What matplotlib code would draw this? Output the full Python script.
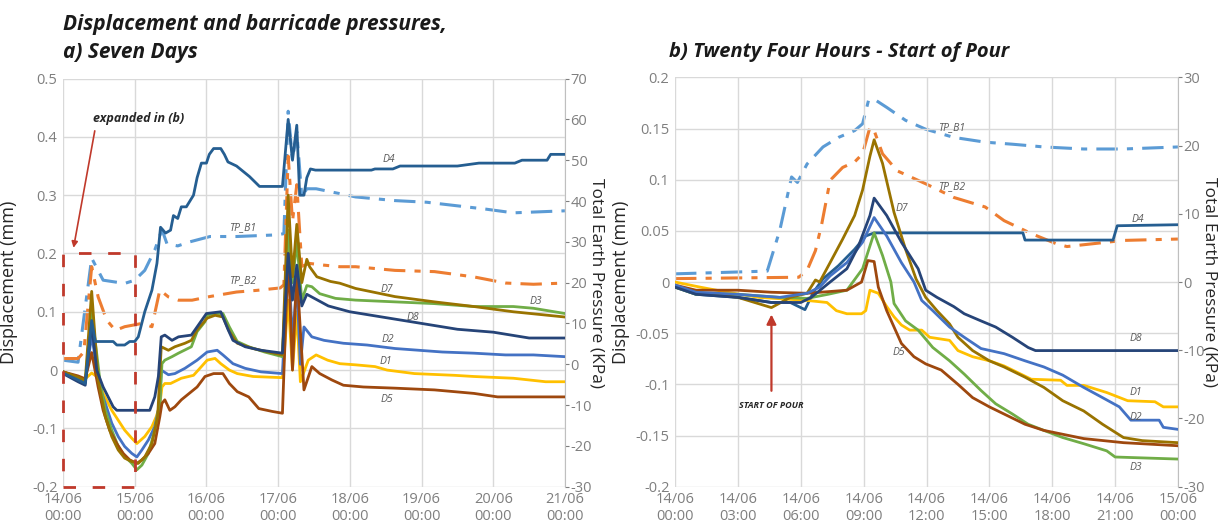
import matplotlib
matplotlib.use("Agg")
import matplotlib.pyplot as plt
from matplotlib.patches import Rectangle

plt.rcParams['font.family'] = ['Open Sans', 'DejaVu Sans']
plt.rcParams['axes.unicode_minus'] = False

# ---------------- data: panel a) seven days (x in days since 14/06 00:00) ----------------
a_xticks = [0, 1, 2, 3, 4, 5, 6, 7]
a_xticklabels = ["14/06\n00:00", "15/06\n00:00", "16/06\n00:00", "17/06\n00:00",
                 "18/06\n00:00", "19/06\n00:00", "20/06\n00:00", "21/06\n00:00"]
a_yticks = [0.5, 0.4, 0.3, 0.2, 0.1, 0, -0.1, -0.2]
a_yticklabels = ["0.5", "0.4", "0.3", "0.2", "0.1", "0", "-0.1", "-0.2"]
a_pticks = [70, 60, 50, 40, 30, 20, 10, 0, -10, -20, -30]

a_d1_x = [0, 0.2, 0.31, 0.4, 0.47, 0.56, 0.68, 0.77, 0.86, 0.96, 1.03, 1.14, 1.24, 1.3, 1.35, 1.38,
          1.42, 1.5, 1.65, 1.82, 1.93, 2.01, 2.12, 2.2, 2.32, 2.43, 2.65, 3.06, 3.14, 3.2, 3.26,
          3.31, 3.42, 3.53, 3.69, 3.86, 4.08, 4.35, 4.52, 4.9, 5.46, 5.73, 6.28, 6.73, 7.0]
a_d1_y = [-0.003, -0.012, -0.015, -0.005, -0.011, -0.04, -0.069, -0.086, -0.103, -0.117, -0.126,
          -0.114, -0.097, -0.08, -0.06, -0.029, -0.023, -0.023, -0.014, -0.009, 0.006, 0.017, 0.02,
          0.011, 0.0, -0.006, -0.011, -0.013, 0.12, 0.0, 0.1, -0.02, 0.017, 0.026, 0.017, 0.011,
          0.009, 0.006, 0.0, -0.006, -0.009, -0.011, -0.014, -0.02, -0.02]

a_d2_x = [0, 0.2, 0.31, 0.4, 0.51, 0.59, 0.68, 0.77, 0.86, 0.96, 1.03, 1.1, 1.19, 1.28, 1.35, 1.37,
          1.47, 1.56, 1.7, 1.87, 2.01, 2.15, 2.23, 2.37, 2.54, 2.76, 3.06, 3.14, 3.2, 3.26, 3.31,
          3.36, 3.47, 3.64, 3.91, 4.24, 4.63, 4.96, 5.29, 5.73, 6.17, 6.56, 7.0]
a_d2_y = [-0.003, -0.015, -0.02, 0.06, -0.029, -0.057, -0.091, -0.114, -0.131, -0.143, -0.149,
          -0.137, -0.12, -0.097, -0.057, 0.0, -0.008, -0.006, 0.003, 0.017, 0.031, 0.034, 0.026,
          0.011, 0.003, -0.003, -0.006, 0.2, 0.05, 0.15, 0.01, 0.074, 0.057, 0.051, 0.046, 0.043,
          0.037, 0.034, 0.031, 0.029, 0.026, 0.026, 0.023]

a_d3_x = [0, 0.21, 0.31, 0.4, 0.52, 0.59, 0.68, 0.77, 0.87, 0.96, 1.03, 1.1, 1.19, 1.28, 1.35,
          1.38, 1.42, 1.52, 1.61, 1.79, 1.87, 1.98, 2.01, 2.1, 2.23, 2.32, 2.43, 2.59, 2.81, 3.06,
          3.14, 3.2, 3.26, 3.33, 3.4, 3.47, 3.58, 3.8, 4.08, 4.63, 5.18, 5.73, 6.28, 6.56, 7.0]
a_d3_y = [-0.003, -0.015, -0.02, 0.1, -0.023, -0.069, -0.103, -0.131, -0.149, -0.16, -0.171,
          -0.163, -0.143, -0.103, -0.057, 0.011, 0.017, 0.023, 0.029, 0.04, 0.066, 0.083, 0.094,
          0.097, 0.097, 0.074, 0.049, 0.04, 0.031, 0.023, 0.24, 0.15, 0.22, 0.12, 0.145, 0.143,
          0.131, 0.123, 0.12, 0.117, 0.114, 0.109, 0.109, 0.106, 0.097]

a_d4_x = [0, 0.21, 0.31, 0.4, 0.45, 0.7, 0.75, 0.86, 0.93, 1.0, 1.05, 1.14, 1.24, 1.31, 1.36,
          1.43, 1.5, 1.54, 1.6, 1.65, 1.72, 1.82, 1.87, 1.93, 2.0, 2.04, 2.1, 2.2, 2.25, 2.3, 2.42,
          2.6, 2.74, 3.06, 3.14, 3.2, 3.26, 3.3, 3.36, 3.4, 3.45, 3.52, 4.3, 4.35, 4.6, 4.7, 5.5,
          5.8, 6.3, 6.4, 6.75, 6.8, 7.0]
a_d4_y = [-0.005, -0.017, -0.023, 0.085, 0.049, 0.049, 0.043, 0.043, 0.049, 0.049, 0.057, 0.1,
          0.137, 0.183, 0.245, 0.235, 0.24, 0.265, 0.26, 0.28, 0.28, 0.3, 0.33, 0.355, 0.355,
          0.37, 0.38, 0.38, 0.37, 0.357, 0.35, 0.332, 0.315, 0.315, 0.43, 0.36, 0.42, 0.3, 0.3,
          0.33, 0.345, 0.343, 0.343, 0.345, 0.345, 0.35, 0.35, 0.355, 0.355, 0.36, 0.36, 0.37, 0.37]

a_d5_x = [0, 0.21, 0.31, 0.4, 0.49, 0.56, 0.65, 0.75, 0.84, 0.93, 1.03, 1.1, 1.19, 1.28, 1.35,
          1.38, 1.42, 1.49, 1.56, 1.65, 1.76, 1.87, 1.98, 2.1, 2.23, 2.32, 2.43, 2.59, 2.73, 2.92,
          3.06, 3.14, 3.2, 3.26, 3.36, 3.47, 3.58, 3.75, 3.91, 4.19, 4.63, 5.18, 5.73, 6.06, 7.0]
a_d5_y = [-0.003, -0.01, -0.015, 0.03, -0.029, -0.069, -0.103, -0.126, -0.143, -0.154, -0.16,
          -0.154, -0.143, -0.126, -0.08, -0.057, -0.051, -0.069, -0.063, -0.051, -0.04, -0.029,
          -0.011, -0.006, -0.006, -0.023, -0.037, -0.046, -0.066, -0.071, -0.074, 0.2, 0.0, 0.17,
          -0.034, 0.006, -0.006, -0.017, -0.026, -0.029, -0.031, -0.034, -0.04, -0.046, -0.046]

a_d7_x = [0, 0.21, 0.31, 0.4, 0.49, 0.59, 0.68, 0.77, 0.86, 0.96, 1.05, 1.14, 1.24, 1.32, 1.37,
          1.47, 1.56, 1.7, 1.79, 1.87, 2.01, 2.12, 2.23, 2.32, 2.43, 2.65, 2.87, 3.06, 3.14, 3.2,
          3.26, 3.33, 3.4, 3.44, 3.54, 3.73, 3.86, 4.08, 4.63, 5.18, 5.73, 6.28, 7.0]
a_d7_y = [-0.003, -0.012, -0.018, 0.135, -0.017, -0.08, -0.114, -0.137, -0.151, -0.157, -0.16,
          -0.149, -0.126, -0.08, 0.04, 0.034, 0.04, 0.046, 0.051, 0.069, 0.089, 0.094, 0.091,
          0.066, 0.046, 0.037, 0.031, 0.026, 0.3, 0.16, 0.25, 0.15, 0.19, 0.177, 0.16, 0.152,
          0.149, 0.14, 0.126, 0.117, 0.109, 0.1, 0.091]

a_d8_x = [0, 0.21, 0.31, 0.4, 0.47, 0.56, 0.63, 0.7, 0.75, 1.21, 1.28, 1.33, 1.37, 1.42, 1.52,
          1.61, 1.79, 2.0, 2.2, 2.3, 2.37, 2.54, 2.76, 3.06, 3.14, 3.2, 3.26, 3.33, 3.4, 3.7, 4.0,
          4.5, 5.0, 5.5, 6.0, 6.5, 7.0]
a_d8_y = [-0.006, -0.02, -0.026, 0.08, 0.0, -0.029, -0.046, -0.063, -0.069, -0.069, -0.046,
          -0.011, 0.057, 0.06, 0.051, 0.057, 0.06, 0.097, 0.1, 0.07, 0.051, 0.04, 0.034, 0.029,
          0.2, 0.12, 0.18, 0.11, 0.13, 0.11, 0.1, 0.09, 0.08, 0.07, 0.065, 0.055, 0.055]

a_tpb1_x = [0, 0.21, 0.4, 0.56, 0.86, 1.0, 1.14, 1.28, 1.38, 1.45, 1.6, 1.77, 2.05, 2.42, 2.98,
            3.08, 3.14, 3.2, 3.26, 3.33, 3.4, 3.53, 4.08, 4.63, 5.07, 5.46, 5.9, 6.28, 7.0]
a_tpb1_y = [1.0, 0.5, 26, 20.6, 19.8, 20.6, 23, 28, 33, 29.5, 29, 30, 31.3, 31.3, 31.7, 32, 62,
            50, 57, 41, 43, 43, 41, 40.1, 39.7, 38.9, 38.0, 37.1, 37.6]

a_tpb2_x = [0, 0.21, 0.29, 0.4, 0.49, 0.61, 0.73, 0.86, 1.1, 1.24, 1.35, 1.47, 1.61, 1.8, 2.05,
            2.42, 2.7, 3.03, 3.08, 3.14, 3.2, 3.26, 3.33, 3.44, 3.63, 3.86, 4.08, 4.63, 5.18,
            5.73, 6.17, 6.56, 7.0]
a_tpb2_y = [1.4, 1.4, 3, 23.9, 16.5, 10.8, 8.3, 9.2, 10, 9.2, 18.2, 16.5, 15.7, 15.7, 16.6, 17.7,
            18.1, 18.7, 19.5, 51, 35, 44, 24, 24.7, 24.3, 23.9, 23.9, 23.0, 22.7, 21.4, 19.9,
            19.6, 19.9]

# ---------------- data: panel b) 24 hours (x in hours since 14/06 00:00) ----------------
b_xticks = [0, 3, 6, 9, 12, 15, 18, 21, 24]
b_xticklabels = ["14/06\n00:00", "14/06\n03:00", "14/06\n06:00", "14/06\n09:00", "14/06\n12:00",
                 "14/06\n15:00", "14/06\n18:00", "14/06\n21:00", "15/06\n00:00"]
b_yticks = [0.2, 0.15, 0.1, 0.05, 0, -0.05, -0.1, -0.15, -0.2]
b_yticklabels = ["0.2", "0.15", "0.1", "0.05", "0", "-0.05", "-0.1", "-0.15", "-0.2"]
b_pticks = [30, 20, 10, 0, -10, -20, -30]

b_d1_x = [0, 1.2, 2.5, 4.0, 6.3, 7.25, 7.7, 8.2, 8.9, 9.1, 9.3, 9.7, 10.1, 10.45, 10.8, 11.2,
          11.77, 12.15, 13.1, 13.5, 14.2, 15.0, 15.7, 16.5, 17.0, 18.4, 18.7, 19.5, 20.6, 21.6,
          22.9, 23.3, 24]
b_d1_y = [0.0, -0.005, -0.01, -0.015, -0.018, -0.02, -0.028, -0.031, -0.031, -0.028, -0.008,
          -0.011, -0.024, -0.034, -0.042, -0.047, -0.047, -0.054, -0.057, -0.067, -0.073, -0.077,
          -0.082, -0.09, -0.095, -0.096, -0.101, -0.101, -0.108, -0.116, -0.117, -0.122, -0.122]

b_d2_x = [0, 1.0, 3.0, 5.0, 6.3, 6.9, 7.4, 8.2, 8.95, 9.5, 10.1, 10.8, 11.4, 11.77, 12.3, 13.1,
          13.8, 14.6, 15.7, 16.7, 17.6, 18.5, 19.5, 20.4, 21.2, 21.75, 23.1, 23.3, 24]
b_d2_y = [-0.003, -0.01, -0.012, -0.015, -0.011, -0.005, 0.006, 0.019, 0.039, 0.063, 0.045,
          0.019, 0.0, -0.018, -0.028, -0.044, -0.054, -0.065, -0.07, -0.077, -0.083, -0.091,
          -0.103, -0.113, -0.122, -0.135, -0.135, -0.142, -0.144]

b_d3_x = [0, 1.0, 3.0, 5.0, 6.3, 7.3, 8.2, 8.95, 9.5, 9.9, 10.3, 10.45, 11.0, 11.6, 12.3, 13.1,
          13.8, 14.6, 15.3, 16.1, 16.85, 17.6, 18.5, 19.5, 20.6, 21.0, 24]
b_d3_y = [-0.005, -0.012, -0.012, -0.015, -0.016, -0.012, -0.008, 0.013, 0.048, 0.026, 0.0,
          -0.021, -0.038, -0.047, -0.064, -0.077, -0.09, -0.106, -0.119, -0.129, -0.139, -0.145,
          -0.152, -0.158, -0.165, -0.171, -0.173]

b_d4_x = [0, 1.0, 3.0, 4.6, 5.5, 6.2, 6.6, 7.06, 7.8, 8.57, 9.1, 9.5, 16.6, 16.7, 20.9, 21.1, 24]
b_d4_y = [-0.005, -0.012, -0.015, -0.02, -0.02, -0.027, -0.01, 0.003, 0.016, 0.032, 0.045, 0.048,
          0.048, 0.041, 0.041, 0.055, 0.056]

b_d5_x = [0, 1.0, 3.0, 4.6, 6.3, 8.2, 8.9, 9.2, 9.5, 9.7, 10.1, 10.45, 10.8, 11.4, 11.96, 12.7,
          13.5, 14.2, 15.0, 15.7, 16.7, 17.6, 19.5, 21.4, 24]
b_d5_y = [-0.003, -0.008, -0.008, -0.01, -0.011, -0.008, 0.0, 0.021, 0.02, -0.005, -0.028,
          -0.044, -0.06, -0.073, -0.08, -0.086, -0.1, -0.113, -0.122, -0.129, -0.139, -0.145,
          -0.153, -0.157, -0.16]

b_d7_x = [0, 1.0, 3.0, 4.6, 5.5, 6.3, 6.7, 6.9, 7.4, 8.0, 8.57, 8.95, 9.3, 9.5, 9.9, 10.45, 11.0,
          11.5, 11.96, 12.5, 13.1, 13.5, 14.2, 15.0, 15.7, 16.7, 17.6, 18.5, 19.5, 20.4, 21.4,
          22.3, 24]
b_d7_y = [-0.005, -0.01, -0.015, -0.025, -0.015, -0.011, 0.002, 0.0, 0.019, 0.042, 0.065, 0.09,
          0.123, 0.139, 0.116, 0.068, 0.032, 0.003, -0.015, -0.028, -0.041, -0.054, -0.067,
          -0.077, -0.083, -0.093, -0.103, -0.116, -0.126, -0.139, -0.152, -0.155, -0.157]

b_d8_x = [0, 1.0, 3.0, 4.6, 6.0, 6.5, 7.4, 8.2, 8.75, 9.3, 9.5, 10.1, 10.8, 11.6, 11.96, 12.5,
          13.3, 13.8, 14.6, 15.3, 16.1, 16.85, 17.2, 24]
b_d8_y = [-0.005, -0.012, -0.015, -0.02, -0.02, -0.015, 0.0, 0.013, 0.035, 0.065, 0.082, 0.065,
          0.039, 0.013, -0.008, -0.015, -0.024, -0.031, -0.038, -0.044, -0.054, -0.064, -0.067,
          -0.067]

b_tpb1_x = [0, 4.4, 5.0, 5.56, 5.84, 6.3, 7.06, 7.8, 8.57, 8.95, 9.23, 9.5, 10.1, 11.0, 11.96,
            13.3, 14.8, 16.1, 17.6, 19.5, 21.4, 24]
b_tpb1_y = [1.2, 1.6, 7.6, 15.4, 14.6, 17.3, 19.8, 21.2, 22.2, 23.2, 26.6, 26.8, 25.6, 23.7,
            22.4, 21.2, 20.5, 20.2, 19.8, 19.5, 19.5, 19.8]

b_tpb2_x = [0, 5.9, 6.3, 6.7, 7.0, 7.4, 8.0, 8.57, 8.95, 9.3, 9.5, 9.9, 10.6, 11.96, 13.3, 14.8,
            15.7, 17.0, 18.2, 18.7, 19.9, 21.4, 24]
b_tpb2_y = [0.5, 0.7, 1.7, 4.6, 8.5, 14.9, 16.8, 17.6, 18.8, 22.7, 22.2, 18.8, 16.3, 14.4, 12.4,
            11.0, 9.0, 7.1, 5.6, 5.2, 5.6, 6.1, 6.3]

# ---------------- styles ----------------
C = {"D1": "#FFC000", "D2": "#4472C4", "D3": "#70AD47", "D4": "#255E91",
     "D5": "#9E480E", "D7": "#997300", "D8": "#264478",
     "TP_B1": "#5B9BD5", "TP_B2": "#ED7D31"}
GRID = "#d9d9d9"
TICKC = "#7f7f7f"
LBLC = "#595959"
RED = "#c0392b"
DASHDOT = (0, (7, 3, 2, 3))

fig = plt.figure(figsize=(12.28, 5.27), dpi=100)


def setup(ax, ax2, xlim, ylim, plim, xticks, xlabels, yticks, ylabels, pticks):
    ax.set_xlim(*xlim)
    ax.set_ylim(*ylim)
    ax2.set_ylim(*plim)
    ax.set_xticks(xticks)
    ax.set_xticklabels(xlabels)
    ax.set_yticks(yticks)
    ax.set_yticklabels(ylabels)
    ax2.set_yticks(pticks)
    ax2.set_yticklabels([str(p) for p in pticks])
    ax.grid(True, color=GRID, linewidth=1.0)
    ax.tick_params(length=0, colors=TICKC, labelsize=10.5, pad=4)
    ax2.tick_params(axis='y', length=3, colors=TICKC, labelsize=10.5, pad=1)
    for s in ax.spines.values():
        s.set_visible(False)
    for name, s in ax2.spines.items():
        if name == 'right':
            s.set_color("#bfbfbf")
        else:
            s.set_visible(False)
    ax.set_ylabel("Displacement (mm)", fontsize=13, color="#262626")
    ax.yaxis.set_label_coords(-0.09, 0.5)
    ax2.set_ylabel("Total Earth Pressure (KPa)", fontsize=12.5, color="#262626", rotation=270)
    ax2.yaxis.set_label_coords(1.079, 0.5)
    ax.set_zorder(ax2.get_zorder() + 1)
    ax.patch.set_visible(False)


def label(ax, x, y, s):
    ax.text(x, y, s, fontsize=7.5, style='italic', color=LBLC, ha='center', va='center')


# ---------------- panel a ----------------
axA = fig.add_axes([0.0513, 0.0765, 0.4088, 0.7744])
axA2 = axA.twinx()
setup(axA, axA2, (0, 7), (-0.2, 0.5), (-30, 70), a_xticks, a_xticklabels,
      a_yticks, a_yticklabels, a_pticks)

axA2.plot(a_tpb1_x, a_tpb1_y, color=C["TP_B1"], lw=2.2, ls=DASHDOT)
axA2.plot(a_tpb2_x, a_tpb2_y, color=C["TP_B2"], lw=2.2, ls=DASHDOT)
for key, xs, ys in [("D1", a_d1_x, a_d1_y), ("D2", a_d2_x, a_d2_y), ("D3", a_d3_x, a_d3_y),
                    ("D5", a_d5_x, a_d5_y), ("D7", a_d7_x, a_d7_y), ("D8", a_d8_x, a_d8_y),
                    ("D4", a_d4_x, a_d4_y)]:
    axA.plot(xs, ys, color=C[key], lw=2.0)

label(axA, 4.55, 0.362, "D4")
label(axA, 2.51, 0.244, "TP_B1")
label(axA, 2.51, 0.153, "TP_B2")
label(axA, 4.52, 0.139, "D7")
label(axA, 6.6, 0.117, "D3")
label(axA, 4.88, 0.091, "D8")
label(axA, 4.53, 0.052, "D2")
label(axA, 4.5, 0.014, "D1")
label(axA, 4.52, -0.05, "D5")

axA.add_patch(Rectangle((0, -0.2), 1, 0.4, fill=False, edgecolor=RED, lw=2.0,
                        ls=(0, (4.5, 6)), clip_on=False, zorder=5))
axA.annotate("", xy=(0.14, 0.205), xytext=(0.45, 0.415),
             arrowprops=dict(arrowstyle="-|>", color=RED, lw=1.2, mutation_scale=9))
axA.text(0.42, 0.432, "expanded in (b)", fontsize=9, weight='bold', style='italic',
         color="#262626", ha='left', va='center')

# ---------------- panel b ----------------
axB = fig.add_axes([0.5497, 0.0765, 0.4096, 0.7767])
axB2 = axB.twinx()
setup(axB, axB2, (0, 24), (-0.2, 0.2), (-30, 30), b_xticks, b_xticklabels,
      b_yticks, b_yticklabels, b_pticks)

axB2.plot(b_tpb1_x, b_tpb1_y, color=C["TP_B1"], lw=2.2, ls=DASHDOT)
axB2.plot(b_tpb2_x, b_tpb2_y, color=C["TP_B2"], lw=2.2, ls=DASHDOT)
for key, xs, ys in [("D4", b_d4_x, b_d4_y), ("D1", b_d1_x, b_d1_y), ("D3", b_d3_x, b_d3_y),
                    ("D5", b_d5_x, b_d5_y), ("D7", b_d7_x, b_d7_y), ("D2", b_d2_x, b_d2_y),
                    ("D8", b_d8_x, b_d8_y)]:
    axB.plot(xs, ys, color=C[key], lw=2.0)

label(axB, 13.2, 0.151, "TP_B1")
label(axB, 13.2, 0.093, "TP_B2")
label(axB, 10.8, 0.072, "D7")
label(axB, 22.1, 0.061, "D4")
label(axB, 22.0, -0.055, "D8")
label(axB, 10.7, -0.069, "D5")
label(axB, 22.0, -0.108, "D1")
label(axB, 22.0, -0.132, "D2")
label(axB, 22.0, -0.181, "D3")

axB.annotate("", xy=(4.6, -0.029), xytext=(4.6, -0.109),
             arrowprops=dict(arrowstyle="-|>", color=RED, lw=1.6, mutation_scale=14))
axB.text(4.6, -0.121, "START OF POUR", fontsize=6.5, weight='bold', style='italic',
         color="#262626", ha='center', va='center')

# ---------------- titles ----------------
fig.text(0.0513, 0.953, "Displacement and barricade pressures,", fontsize=15, weight='bold',
         style='italic', color="#1a1a1a", ha='left', va='center')
fig.text(0.0513, 0.900, "a) Seven Days", fontsize=15, weight='bold', style='italic',
         color="#1a1a1a", ha='left', va='center')
fig.text(0.5448, 0.902, "b) Twenty Four Hours - Start of Pour", fontsize=14.5, weight='bold',
         style='italic', color="#1a1a1a", ha='left', va='center')

fig.savefig("out.png", dpi=100)
